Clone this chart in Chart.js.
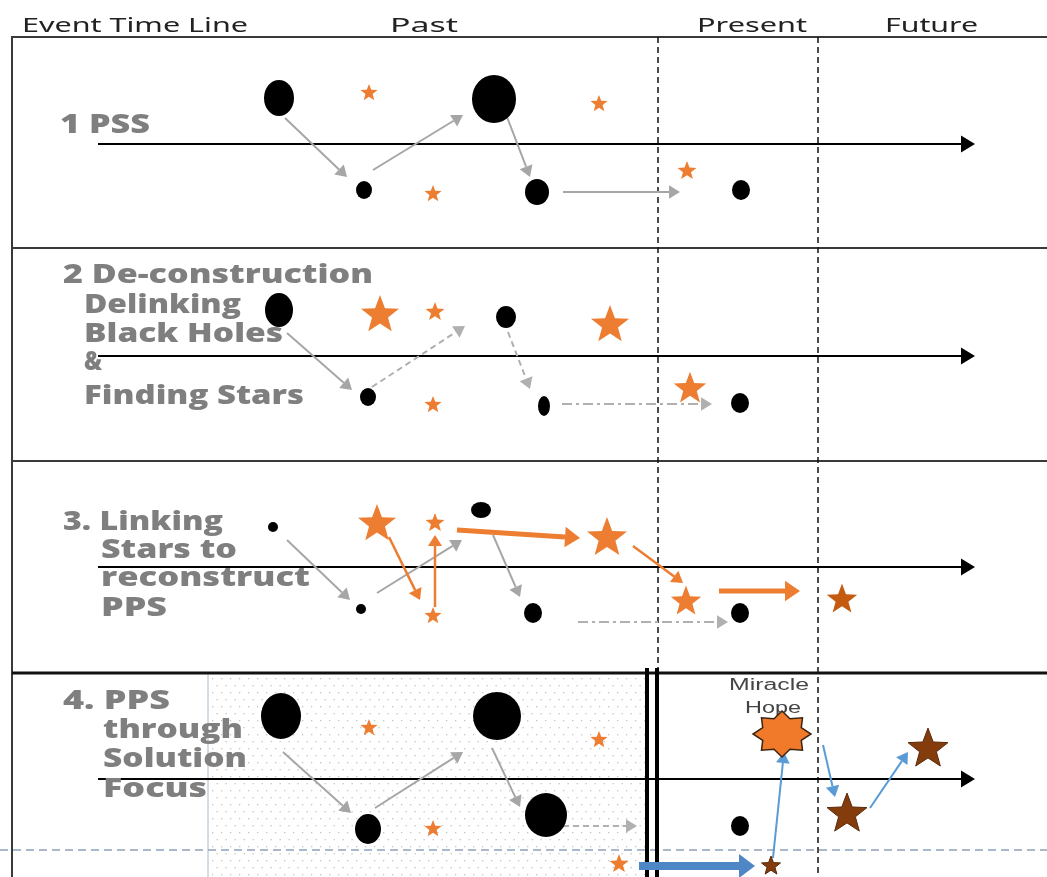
<!DOCTYPE html>
<html>
<head>
<meta charset="utf-8">
<script src="https://cdn.jsdelivr.net/npm/chart.js@4.4.0/dist/chart.umd.min.js"></script>
<style>
  body { margin: 0; background: #fff; }
  #wrap { width: 1047px; height: 877px; }
</style>
</head>
<body>
<div id="wrap"><canvas id="chart" width="1047" height="877"></canvas></div>
<script>
// header labels and where they sit along the time line
const headerLabels = ['Event Time Line', 'Past', 'Present', 'Future'];
const headerX = [22, 390, 697, 885];
const headerW = [226, 68, 110, 93];

// panel titles (one list of lines per panel)
const panelTitles = [
  ['1 PSS'],
  ['2 De-construction', 'Delinking', 'Black Holes', '&', 'Finding Stars'],
  ['3. Linking', 'Stars to', 'reconstruct', 'PPS'],
  ['4. PPS', 'through', 'Solution', 'Focus']
];
const titleX = [[60], [63, 84, 84, 84, 84], [63, 101, 101, 101], [63, 103, 103, 103]];
const titleY = [[133], [283, 313, 342, 370, 404], [530, 558, 586, 616], [709, 738, 767, 797]];
const titleW = [[90], [310, 157, 199, 18, 220], [160, 136, 209, 66], [107, 140, 144, 104]];

// black holes
const holeX = [279, 494, 364, 537, 741,  279, 506, 368, 544, 740,  273, 481, 361, 533, 740,  281, 497, 368, 546, 740];
const holeY = [98, 99, 190, 192, 190,    310, 317, 397, 406, 403,  527, 510, 609, 613, 613,  716, 716, 829, 815, 826];
const holeW = [15, 22, 8, 12, 9,         14, 10, 8, 6, 9,          5, 10, 5, 9, 9,           20, 24, 13, 21, 9];
const holeH = [18, 24, 9, 13, 10,        17, 11, 9, 10, 10,        5, 8, 5, 10, 10,          23, 24, 15, 22, 10];

// stars (kind: 0 orange, 1 dark orange, 2 brown)
const starX = [369, 599, 433, 687,  380, 435, 610, 433, 690,  377, 435, 607, 433, 686, 842,  369, 599, 433, 619, 771, 847, 928];
const starY = [92, 103, 193, 170,   313, 311, 323, 404, 387,  522, 522, 536, 615, 600, 598,  727, 739, 828, 863, 865, 812, 747];
const starR = [9, 9, 9, 10,         20, 10, 20, 9, 17,        20, 10, 21, 9, 16, 16,         9, 9, 9, 10, 10, 21, 21];
const starKind = [0, 0, 0, 0,       0, 0, 0, 0, 0,            0, 0, 0, 0, 0, 1,              0, 0, 0, 0, 2, 2, 2];

// the miracle / hope burst
const burstX = [782];
const burstY = [734];
const burstLabel = ['Miracle', 'Hope'];

// time lines and frame
const timelineY = [144, 356, 567, 779];
const panelSepY = [248, 461, 673];
const nowX = [658, 818];

// links: [x1, y1, x2, y2, kind]
// kind: g gray solid, gd gray dashed, gdd gray dash-dot, o orange, O thick orange, b blue, B thick blue
const links = [
  [285, 118, 347, 177, 'g'], [373, 170, 463, 115, 'g'], [507, 117, 530, 177, 'g'], [563, 192, 680, 192, 'g'],
  [287, 333, 352, 390, 'g'], [372, 387, 465, 326, 'gd'], [508, 332, 530, 389, 'gd'], [562, 404, 712, 404, 'gdd'],
  [287, 540, 350, 600, 'g'], [377, 593, 462, 540, 'g'], [493, 535, 520, 597, 'g'], [578, 622, 728, 622, 'gdd'],
  [389, 537, 420, 600, 'o'], [435, 607, 435, 535, 'o'], [457, 530, 580, 538, 'O'], [633, 546, 683, 583, 'o'], [719, 591, 800, 591, 'O'],
  [283, 752, 351, 813, 'g'], [375, 808, 463, 752, 'g'], [492, 748, 520, 807, 'g'], [553, 826, 637, 826, 'gd'],
  [639, 866, 755, 866, 'B'], [773, 858, 784, 752, 'b'], [823, 745, 835, 797, 'b'], [870, 808, 908, 752, 'b']
];

const linkStyle = {
  g:   { color: '#a6a6a6', width: 2, dash: [], head: 11 },
  gd:  { color: '#b0b0b0', width: 2, dash: [6, 4], head: 11 },
  gdd: { color: '#b0b0b0', width: 2, dash: [10, 4, 3, 4], head: 11 },
  o:   { color: '#ed7d31', width: 2.5, dash: [], head: 11 },
  O:   { color: '#ed7d31', width: 5, dash: [], head: 15 },
  b:   { color: '#5b9bd5', width: 2, dash: [], head: 11 },
  B:   { color: '#4f86c6', width: 8, dash: [], head: 16 }
};
const starColors = ['#ed7d31', '#c55a11', '#843c0c'];

function ellipseImg(rx, ry) {
  const c = document.createElement('canvas');
  c.width = rx * 2 + 2; c.height = ry * 2 + 2;
  const g = c.getContext('2d');
  g.fillStyle = '#000';
  g.beginPath();
  g.ellipse(rx + 1, ry + 1, rx, ry, 0, 0, Math.PI * 2);
  g.fill();
  return c;
}

function starPath(g, cx, cy, spikes, rx, ry, ratio) {
  g.beginPath();
  for (let i = 0; i < spikes * 2; i++) {
    const k = i % 2 === 0 ? 1 : ratio;
    const a = -Math.PI / 2 + i * Math.PI / spikes;
    const px = cx + Math.cos(a) * rx * k, py = cy + Math.sin(a) * ry * k;
    if (i === 0) g.moveTo(px, py); else g.lineTo(px, py);
  }
  g.closePath();
}

function starImg(r, color, outline) {
  const c = document.createElement('canvas');
  c.width = r * 2 + 4; c.height = r * 2 + 4;
  const g = c.getContext('2d');
  starPath(g, r + 2, r + 2 + r * 0.1, 5, r, r, 0.42);
  g.fillStyle = color;
  g.fill();
  if (outline) { g.strokeStyle = '#5a2a0a'; g.lineWidth = 1; g.stroke(); }
  return c;
}

function burstImg(rx, ry) {
  const c = document.createElement('canvas');
  c.width = rx * 2 + 4; c.height = ry * 2 + 4;
  const g = c.getContext('2d');
  starPath(g, rx + 2, ry + 2, 8, rx, ry, 0.72);
  g.fillStyle = '#f07a2a';
  g.fill();
  g.strokeStyle = '#3a2414';
  g.lineWidth = 1.5;
  g.stroke();
  return c;
}

const holeImgs = holeW.map((w, i) => ellipseImg(w, holeH[i]));
const starImgs = starR.map((r, i) => starImg(r, starColors[starKind[i]], starKind[i] === 2));
const burstImgs = burstX.map(() => burstImg(29, 23));

function arrow(ctx, x1, y1, x2, y2, st) {
  const ang = Math.atan2(y2 - y1, x2 - x1);
  const hl = st.head, hw = st.head * 0.55 + st.width * 0.4;
  const bx = x2 - Math.cos(ang) * hl, by = y2 - Math.sin(ang) * hl;
  ctx.save();
  ctx.strokeStyle = st.color;
  ctx.fillStyle = st.color;
  ctx.lineWidth = st.width;
  ctx.setLineDash(st.dash);
  ctx.beginPath();
  ctx.moveTo(x1, y1);
  ctx.lineTo(bx, by);
  ctx.stroke();
  ctx.setLineDash([]);
  ctx.beginPath();
  ctx.moveTo(x2, y2);
  ctx.lineTo(bx - Math.sin(ang) * hw, by + Math.cos(ang) * hw);
  ctx.lineTo(bx + Math.sin(ang) * hw, by - Math.cos(ang) * hw);
  ctx.closePath();
  ctx.fill();
  ctx.restore();
}

// text squeezed or stretched to a given width
function wideText(ctx, t, x, y, w) {
  const m = ctx.measureText(t).width;
  ctx.save();
  ctx.translate(x, y);
  ctx.scale(w / m, 1);
  ctx.fillText(t, 0, 0);
  ctx.restore();
}

const diagramPlugin = {
  id: 'diagram',
  beforeDatasetsDraw(chart) {
    const ctx = chart.ctx;
    const sx = v => chart.scales.x.getPixelForValue(v);
    const sy = v => chart.scales.y.getPixelForValue(v);
    const kx = chart.scales.x.width / 1047;
    ctx.save();

    // dotted solution-focus area in panel 4
    ctx.fillStyle = '#c4c4c4';
    let row = 0;
    for (let yy = 678; yy < 877; yy += 7, row++) {
      for (let xx = 212 + (row % 2) * 4.5; xx < 645; xx += 9) {
        ctx.fillRect(sx(xx), sy(yy), 1.3, 1.3);
      }
    }
    ctx.strokeStyle = '#a9bccb';
    ctx.lineWidth = 1;
    ctx.beginPath();
    ctx.moveTo(sx(208), sy(673)); ctx.lineTo(sx(208), sy(877));
    ctx.stroke();

    // frame
    ctx.strokeStyle = '#3a3a3a';
    ctx.lineWidth = 2;
    ctx.beginPath();
    ctx.moveTo(sx(1047), sy(37)); ctx.lineTo(sx(12), sy(37)); ctx.lineTo(sx(12), sy(877));
    ctx.stroke();
    panelSepY.forEach((y, i) => {
      ctx.lineWidth = i === 2 ? 3 : 2;
      ctx.strokeStyle = i === 2 ? '#111' : '#3a3a3a';
      ctx.beginPath();
      ctx.moveTo(sx(12), sy(y)); ctx.lineTo(sx(1047), sy(y));
      ctx.stroke();
    });

    // present / future boundaries
    ctx.strokeStyle = '#111';
    ctx.lineWidth = 1.5;
    ctx.setLineDash([6, 4]);
    ctx.beginPath();
    ctx.moveTo(sx(nowX[0]), sy(37)); ctx.lineTo(sx(nowX[0]), sy(673));
    ctx.moveTo(sx(nowX[1]), sy(37)); ctx.lineTo(sx(nowX[1]), sy(877));
    ctx.stroke();

    // blue dashed base line in panel 4
    ctx.strokeStyle = '#8da3b8';
    ctx.setLineDash([8, 5]);
    ctx.beginPath();
    ctx.moveTo(sx(0), sy(850)); ctx.lineTo(sx(1047), sy(850));
    ctx.stroke();
    ctx.setLineDash([]);

    // double bar marking the present in panel 4
    ctx.strokeStyle = '#000';
    ctx.lineWidth = 4;
    ctx.beginPath();
    ctx.moveTo(sx(647), sy(668)); ctx.lineTo(sx(647), sy(877));
    ctx.moveTo(sx(657), sy(668)); ctx.lineTo(sx(657), sy(877));
    ctx.stroke();

    // time line arrows
    timelineY.forEach(y => arrow(ctx, sx(98), sy(y), sx(975), sy(y), { color: '#000', width: 2, dash: [], head: 14 }));

    // header
    ctx.fillStyle = '#222';
    ctx.font = '19px "Noto Sans", sans-serif';
    ctx.textBaseline = 'alphabetic';
    ctx.textAlign = 'left';
    headerLabels.forEach((t, i) => wideText(ctx, t, sx(headerX[i]), sy(32), headerW[i] * kx));

    // panel titles
    ctx.fillStyle = '#7f7f7f';
    ctx.font = '800 27px "Open Sans", Lato, sans-serif';
    panelTitles.forEach((lines, p) => {
      lines.forEach((t, j) => wideText(ctx, t, sx(titleX[p][j]), sy(titleY[p][j]), titleW[p][j] * kx));
    });

    // links between events
    links.forEach(l => arrow(ctx, sx(l[0]), sy(l[1]), sx(l[2]), sy(l[3]), linkStyle[l[4]]));

    // miracle hope label
    ctx.fillStyle = '#444';
    ctx.font = '16px "Liberation Sans", sans-serif';
    wideText(ctx, burstLabel[0], sx(729), sy(690), 80 * kx);
    wideText(ctx, burstLabel[1], sx(745), sy(713), 56 * kx);
    ctx.restore();
  }
};

new Chart(document.getElementById('chart'), {
  type: 'scatter',
  data: {
    datasets: [
      {
        label: 'Black holes',
        data: holeX.map((x, i) => ({ x, y: holeY[i] })),
        pointStyle: c => holeImgs[c.dataIndex],
        pointRadius: 5
      },
      {
        label: 'Stars',
        data: starX.map((x, i) => ({ x, y: starY[i] })),
        pointStyle: c => starImgs[c.dataIndex],
        pointRadius: 5
      },
      {
        label: 'Miracle hope',
        data: burstX.map((x, i) => ({ x, y: burstY[i] })),
        pointStyle: c => burstImgs[c.dataIndex],
        pointRadius: 5
      }
    ]
  },
  options: {
    responsive: false,
    animation: false,
    layout: { padding: 0, autoPadding: false },
    scales: {
      x: { type: 'linear', min: 0, max: 1047, display: false },
      y: { type: 'linear', min: 0, max: 877, reverse: true, display: false }
    },
    plugins: { legend: { display: false }, tooltip: { enabled: false } }
  },
  plugins: [diagramPlugin]
});
</script>
</body>
</html>
